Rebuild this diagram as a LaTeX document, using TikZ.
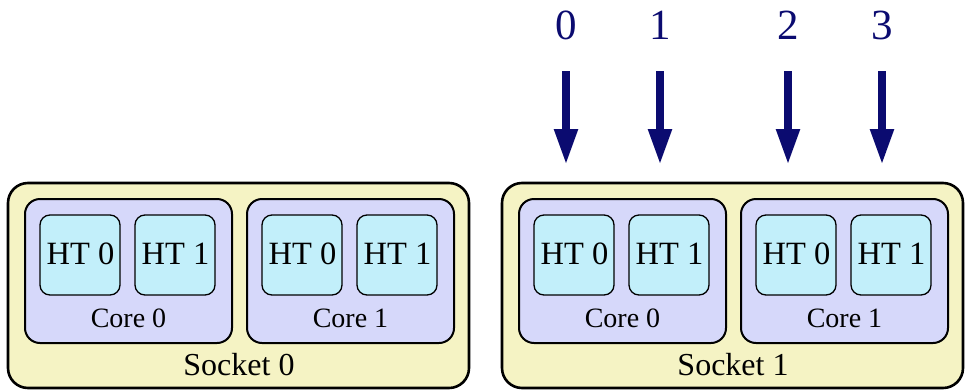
\documentclass[tikz,border=0pt]{standalone}
\usepackage{fontspec}
\setmainfont{Liberation Serif}
\usetikzlibrary{arrows.meta}
\definecolor{socketfill}{HTML}{F5F3C4}
\definecolor{corefill}{HTML}{D6D8FA}
\definecolor{htfill}{HTML}{C2EFFA}
\definecolor{navy}{HTML}{0B0B70}
\tikzset{
  socketbox/.style={draw=black, fill=socketfill, line width=2.6pt, rounded corners=20pt,
    minimum width=461pt, minimum height=205pt, inner sep=0pt},
  corebox/.style={draw=black, fill=corefill, line width=2pt, rounded corners=15pt,
    minimum width=207pt, minimum height=144pt, inner sep=0pt},
  htbox/.style={draw=black, fill=htfill, line width=1.3pt, rounded corners=10pt,
    minimum width=80pt, minimum height=80pt, inner sep=0pt},
  httext/.style={font=\fontsize{32.5}{32.5}\selectfont, anchor=base, inner sep=0pt},
  coretext/.style={font=\fontsize{28}{28}\selectfont, anchor=base, inner sep=0pt},
  sockettext/.style={font=\fontsize{32}{32}\selectfont, anchor=base, inner sep=0pt},
  numtext/.style={font=\fontsize{43}{43}\selectfont, anchor=base, inner sep=0pt, text=navy},
  thread/.style={draw=navy, line width=8pt, -{Triangle[width=22pt,length=36pt]}},
}
\begin{document}
\begin{tikzpicture}[x=1pt, y=-1pt]
  \useasboundingbox (0,0) rectangle (965,391);
  % sockets
  \foreach \s/\sx in {0/8, 1/502} {
    \node[socketbox] (sock\s) at (\sx+230.5, 285.5) {};
    \node[sockettext] (sock\s lbl) at (\sx+231, 375) {Socket \s};
    \foreach \c/\cx in {0/17, 1/239} {
      \node[corebox] (core\s\c) at (\sx+\cx+103.5, 271) {};
      \node[coretext] (core\s\c lbl) at (\sx+\cx+103.5, 327) {Core \c};
      \foreach \h/\hx in {0/15, 1/110} {
        \node[htbox] (ht\s\c\h) at (\sx+\cx+\hx+40, 255) {};
        \node[httext] (ht\s\c\h lbl) at (\sx+\cx+\hx+40.5, 264) {HT \h};
      }
    }
  }
  % logical CPU numbers and their arrows
  \foreach \n/\ax in {0/566, 1/660, 2/788, 3/882} {
    \node[numtext] (num\n) at (\ax, 39) {\n};
    \coordinate (arrS\n) at (\ax, 71);
    \coordinate (arrE\n) at (\ax, 165);
    \draw[thread] (arrS\n) -- (arrE\n);
  }
\end{tikzpicture}
\end{document}
